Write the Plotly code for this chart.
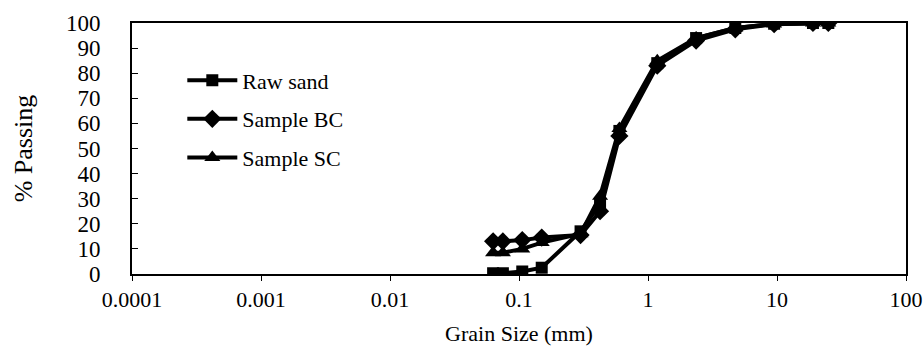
import plotly.graph_objects as go

sieve_mm = [0.063, 0.075, 0.106, 0.15, 0.3, 0.425, 0.6, 1.18, 2.36, 4.75, 9.5, 19, 25]
raw_sand = [0.3, 0.3, 1, 2.5, 17, 28, 57, 84, 94, 98, 99.7, 100, 100]
sample_bc = [13, 13, 13.5, 14.5, 15.5, 25, 55, 83, 93, 97.5, 99.5, 100, 100]
sample_sc = [8.5, 8.5, 10, 12.5, 16, 31, 58, 85, 94, 98, 99.6, 100, 100]

x_ticks = [0.0001, 0.001, 0.01, 0.1, 1, 10, 100]
x_tick_labels = ["0.0001", "0.001", "0.01", "0.1", "1", "10", "100"]
y_ticks = list(range(0, 101, 10))

FONT = "Liberation Serif, Times New Roman, serif"

fig = go.Figure()
series = [
    ("Raw sand", raw_sand, "square", 12),
    ("Sample BC", sample_bc, "diamond", 14),
    ("Sample SC", sample_sc, "triangle-up", 14),
]
for i, (name, vals, sym, msize) in enumerate(series):
    fig.add_trace(go.Scatter(
        x=sieve_mm, y=vals, name=name, mode="lines+markers",
        legendgroup=f"g{i}",
        line=dict(color="black", width=4),
        marker=dict(symbol=sym, size=msize, color="black"),
    ))

fig.update_layout(
    width=923, height=351,
    margin=dict(l=132, r=17, t=23, b=77),
    plot_bgcolor="white", paper_bgcolor="white",
    font=dict(family=FONT, size=22, color="black"),
    showlegend=True,
    legend=dict(
        x=0.065, y=0.855, xanchor="left", yanchor="top",
        bgcolor="rgba(0,0,0,0)", font=dict(family=FONT, size=22),
        tracegroupgap=7, itemwidth=50,
    ),
)
fig.update_xaxes(
    type="log", range=[-4, 2], automargin=False,
    tickvals=x_ticks, ticktext=x_tick_labels,
    showline=True, linecolor="black", linewidth=2, mirror=True,
    ticks="outside", ticklen=5, tickcolor="black", tickwidth=1,
    showgrid=False, zeroline=False,
    tickfont=dict(family=FONT, size=22),
    ticklabeloverflow="allow",
    title=dict(text="Grain Size (mm)", font=dict(family=FONT, size=22), standoff=14),
)
fig.update_yaxes(
    range=[0, 100], tickvals=y_ticks, automargin=False,
    showline=True, linecolor="black", linewidth=2, mirror=True,
    ticks="inside", ticklen=6, tickcolor="black", tickwidth=1,
    showgrid=False, zeroline=False,
    tickfont=dict(family=FONT, size=23),
    ticklabelstandoff=25,
    title=dict(text="% Passing", font=dict(family=FONT, size=26), standoff=26),
)

fig.write_html("out.html")
